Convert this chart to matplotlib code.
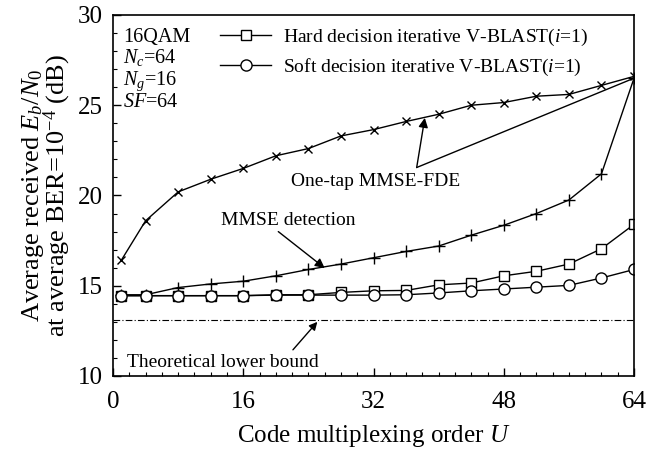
import matplotlib
matplotlib.use("Agg")
import matplotlib.pyplot as plt
from matplotlib.ticker import MultipleLocator

plt.rcParams['font.family'] = ['Liberation Serif', 'DejaVu Serif']
plt.rcParams['mathtext.fontset'] = 'custom'
plt.rcParams['mathtext.rm'] = 'Liberation Serif'
plt.rcParams['mathtext.it'] = 'Liberation Serif:italic'

U = [1, 4, 8, 12, 16, 20, 24, 28, 32, 36, 40, 44, 48, 52, 56, 60, 64]
one_tap = [16.4, 18.6, 20.2, 20.9, 21.5, 22.2, 22.6, 23.3, 23.65, 24.1, 24.5, 25.0, 25.15, 25.5, 25.6, 26.1, 26.6]
mmse = [14.5, 14.5, 14.9, 15.1, 15.25, 15.55, 15.9, 16.2, 16.55, 16.9, 17.2, 17.8, 18.35, 19.0, 19.75, 21.2, 26.5]
hard = [14.45, 14.45, 14.45, 14.45, 14.45, 14.5, 14.5, 14.63, 14.72, 14.74, 15.05, 15.15, 15.55, 15.8, 16.2, 17.05, 18.4]
soft = [14.45, 14.45, 14.45, 14.45, 14.45, 14.48, 14.48, 14.48, 14.48, 14.5, 14.6, 14.72, 14.82, 14.92, 15.02, 15.43, 15.9]
lower_bound = 13.1

fig = plt.figure(figsize=(6.72, 4.53), dpi=100)
ax = fig.add_axes([0.1682, 0.170, 0.7753, 0.7969])

lw = 1.0
ax.plot(U, one_tap, color='black', lw=lw, marker='x', ms=6, mew=1.0)
ax.plot(U, mmse, color='black', lw=lw, marker='+', ms=8, mew=1.0)
ax.plot(U, hard, color='black', lw=lw, marker='s', ms=7.5, mfc='white', mew=1.0,
        label='Hard decision iterative V-BLAST($i$=1)')
ax.plot(U, soft, color='black', lw=lw, marker='o', ms=8, mfc='white', mew=1.0,
        label='Soft decision iterative V-BLAST($i$=1)')
ax.axhline(lower_bound, color='black', lw=0.8, ls=(0, (6, 2, 1, 2)))

ax.set_xlim(0, 64)
ax.set_ylim(10, 30)
ax.xaxis.set_major_locator(MultipleLocator(16))
ax.xaxis.set_minor_locator(MultipleLocator(2))
ax.yaxis.set_major_locator(MultipleLocator(5))
ax.yaxis.set_minor_locator(MultipleLocator(1))
ax.tick_params(which='both', direction='in', top=False, right=False, labelsize=18)
ax.tick_params(which='major', length=6, width=1)
ax.tick_params(which='minor', length=3, width=0.8)
ax.tick_params(axis='x', pad=11)
ax.tick_params(axis='y', pad=7.5)
for s in ax.spines.values():
    s.set_linewidth(1.2)

ax.set_xlabel('Code multiplexing order $U$', fontsize=18, labelpad=7)
ax.set_ylabel('Average received $E_b$/$N_0$\nat average BER=10$^{-4}$ (dB)', fontsize=19,
              linespacing=0.85, labelpad=3)

leg = ax.legend(loc='upper left', bbox_to_anchor=(0.18, 1.005), frameon=False, fontsize=14,
                handlelength=2.6, handletextpad=0.6, labelspacing=0.45, borderaxespad=0.3)

ax.text(0.02, 0.965, '16QAM\n$N_c$=64\n$N_g$=16\n$SF$=64', transform=ax.transAxes,
        fontsize=14.5, va='top', ha='left', linespacing=1.05)

ax.text(32.2, 20.75, 'One-tap MMSE-FDE', fontsize=14, ha='center', va='center')
ax.annotate('', xy=(38.3, 24.3), xytext=(37.3, 21.55),
            arrowprops=dict(arrowstyle='-|>', color='black', lw=1, mutation_scale=14,
                            shrinkA=0, shrinkB=0))
ax.annotate('', xy=(64, 26.5), xytext=(37.3, 21.55),
            arrowprops=dict(arrowstyle='-', color='black', lw=1, shrinkA=0, shrinkB=0))

ax.text(21.5, 18.64, 'MMSE detection', fontsize=14, ha='center', va='center')
ax.annotate('', xy=(26.0, 15.98), xytext=(20.3, 18.0),
            arrowprops=dict(arrowstyle='-|>', color='black', lw=1, mutation_scale=14,
                            shrinkA=0, shrinkB=0))

ax.text(13.5, 10.72, 'Theoretical lower bound', fontsize=14, ha='center', va='center')
ax.annotate('', xy=(25.1, 13.0), xytext=(22.1, 11.45),
            arrowprops=dict(arrowstyle='-|>', color='black', lw=1, mutation_scale=12,
                            shrinkA=0, shrinkB=0))

fig.savefig('out.png', dpi=100)
